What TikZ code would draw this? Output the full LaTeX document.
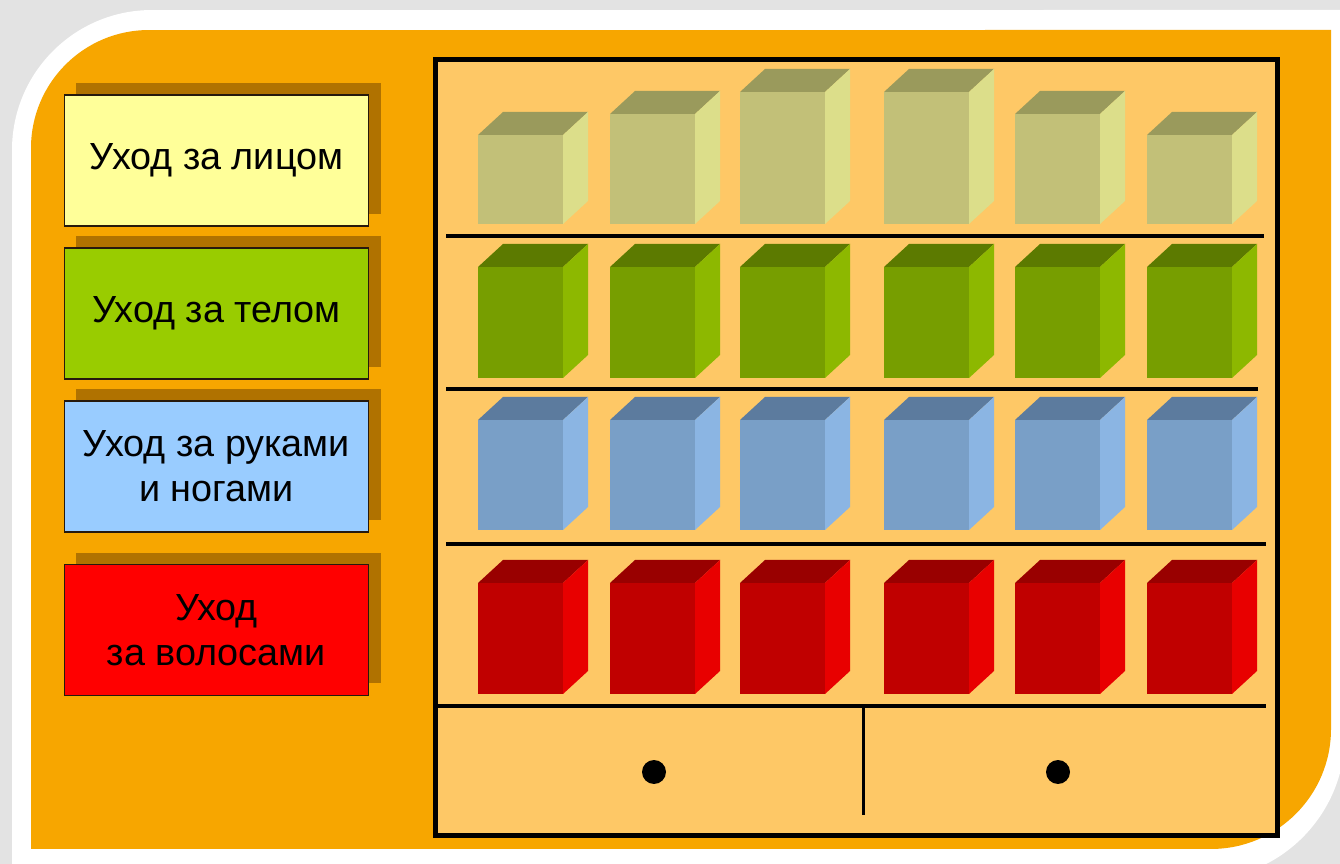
\documentclass[tikz,border=0pt]{standalone}
\usepackage{fontspec}
\setmainfont{Liberation Sans}
\usetikzlibrary{shapes,shadows,calc}

\definecolor{frameorange}{HTML}{F7A600}
\definecolor{cabinet}{HTML}{FEC866}
\definecolor{shadowbrown}{HTML}{B07200}
\definecolor{facecare}{HTML}{FFFF99}
\definecolor{bodycare}{HTML}{99CC00}
\definecolor{handcare}{HTML}{99CCFF}
\definecolor{haircare}{HTML}{FF0000}
% box colours: front, top, side
\definecolor{olivefront}{HTML}{C2C078}
\definecolor{olivetop}{HTML}{9A9A5C}
\definecolor{oliveside}{HTML}{DCDE8A}
\definecolor{greenfront}{HTML}{779E00}
\definecolor{greentop}{HTML}{5C7A00}
\definecolor{greenside}{HTML}{8DB800}
\definecolor{bluefront}{HTML}{799FC7}
\definecolor{bluetop}{HTML}{5C7B9E}
\definecolor{blueside}{HTML}{8BB5E3}
\definecolor{redfront}{HTML}{C00000}
\definecolor{redtop}{HTML}{990000}
\definecolor{redside}{HTML}{E80000}

% one box on a shelf: x, bottom, height, colour prefix
\newcommand{\shelfcube}[4]{%
  \fill[#4front] (#1,#2) rectangle (#1+85,#2-#3);
  \fill[#4top] (#1,#2-#3) -- ++(25,-23) -- ++(85,0) -- ++(-25,23) -- cycle;
  \fill[#4side] (#1+85,#2) -- (#1+85,#2-#3) -- ++(25,-23) -- ++(0,#3) -- cycle;
}

\begin{document}
\begin{tikzpicture}[x=0.02cm, y=-0.02cm,
    care/.style={draw=black!80!brown, line width=0.6pt, minimum width=6.1cm, minimum height=2.62cm,
      inner sep=0pt, align=center, font=\fontsize{21.5}{25.5}\selectfont,
      drop shadow={shadow xshift=0.24cm, shadow yshift=0.24cm, fill=shadowbrown, opacity=1}},
    shelf/.style={line width=0.07cm, black},
    knob/.style={circle, fill=black, inner sep=0pt, minimum size=0.48cm}
]
    \useasboundingbox (0,0) rectangle (1340,864);
    \clip (0,0) rectangle (1340,864);
    % frame
    \fill[gray!22] (0,0) rectangle (1340,864);
    \fill[white] (12,880) -- (12,150) arc[start angle=180, end angle=90, radius=2.8cm]
        -- (1345,10) -- (1345,735) arc[start angle=0, end angle=-90, radius=2.9cm] -- cycle;
    \fill[frameorange] (31,849) -- (31,148) arc[start angle=180, end angle=90, radius=2.36cm]
        -- (1331,30) -- (1331,729) arc[start angle=0, end angle=-90, radius=2.4cm] -- cycle;

    % labels
    \node[care, fill=facecare] (face) at (216.5,160.5) {Уход за лицом};
    \node[care, fill=bodycare] (body) at (216.5,313.5) {Уход за телом};
    \node[care, fill=handcare] (hands) at (216.5,466.5) {Уход за руками\\и ногами};
    \node[care, fill=haircare] (hair) at (216.5,630) {Уход\\за волосами};

    % cabinet
    \draw[line width=0.1cm, fill=cabinet] (435,60) rectangle (1277,836);
    \draw[shelf] (446,236) -- (1264,236);
    \draw[shelf] (446,389) -- (1258,389);
    \draw[shelf] (446,544) -- (1266,544);
    \draw[shelf] (438,706) -- (1266,706);
    \draw[line width=0.06cm] (863,706) -- (863,815);
    \node[knob] (knobl) at (654,772) {};
    \node[knob] (knobr) at (1058,772) {};

    % shelf boxes
    \foreach \x/\h in {478/89, 610/110, 740/132, 884/132, 1015/110, 1147/89}
        \shelfcube{\x}{224}{\h}{olive};
    \foreach \x in {478, 610, 740, 884, 1015, 1147} {
        \shelfcube{\x}{378}{111}{green}
        \shelfcube{\x}{530}{110}{blue}
        \shelfcube{\x}{694}{111}{red}
    }
\end{tikzpicture}
\end{document}
